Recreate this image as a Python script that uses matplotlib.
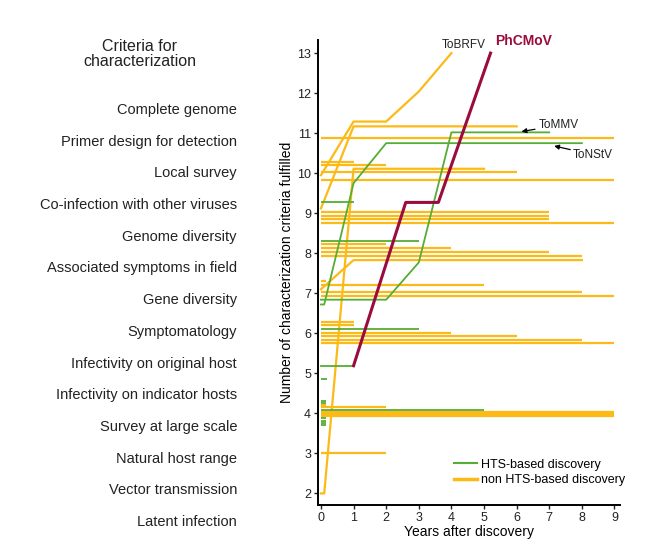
import numpy as np
import matplotlib
matplotlib.use("Agg")
import matplotlib.pyplot as plt
from matplotlib.lines import Line2D

plt.rcParams['font.family'] = ['Liberation Sans', 'DejaVu Sans']

ORANGE = '#FBBA16'
GREEN = '#55AD34'
RED = '#9B0C3E'

criteria = ['Complete genome', 'Primer design for detection', 'Local survey',
            'Co-infection with other viruses', 'Genome diversity',
            'Associated symptoms in field', 'Gene diversity', 'Symptomatology',
            'Infectivity on original host', 'Infectivity on indicator hosts',
            'Survey at large scale', 'Natural host range', 'Vector transmission',
            'Latent infection']

# viruses whose score did not change: jittered level and last year followed
flat_non_hts_level = [10.89, 10.29, 10.21, 10.02, 9.83, 9.02, 8.93, 8.85, 8.75,
                      8.22, 8.12, 8.02, 7.93, 7.31, 7.21, 7.02, 6.93, 6.29, 6.21,
                      6.02, 5.93, 5.83, 5.75, 4.20, 4.16, 4.04, 4.00, 3.97, 3.93,
                      3.02]
flat_non_hts_years = [9, 1, 2, 6, 9, 7, 7, 7, 9,
                      2, 4, 7, 8, 0.15, 5, 8, 9, 1, 1,
                      4, 6, 8, 9, 0.15, 2, 9, 9, 9, 9,
                      2]
flat_hts_level = [9.29, 8.31, 6.11, 4.86, 4.31, 4.25, 4.08, 3.88, 3.82, 3.76, 3.71]
flat_hts_years = [1, 3, 3, 0.2, 0.15, 0.15, 5, 0.15, 0.15, 0.15, 0.15]

# viruses whose score went up over the years
tobrfv_years = [0, 1, 2, 3, 4]
tobrfv_level = [9.95, 11.29, 11.29, 12.04, 13.0]
nonhts_b_years = [0, 1, 6]
nonhts_b_level = [9.12, 11.17, 11.17]
nonhts_c_years = [0, 0.1, 1, 5]
nonhts_c_level = [2.0, 2.0, 10.11, 10.11]
nonhts_d_years = [0, 1, 8]
nonhts_d_level = [7.1, 7.83, 7.83]

tonstv_years = [0, 0.1, 1, 2, 8]
tonstv_level = [6.72, 6.72, 9.75, 10.75, 10.75]
tommv_years = [0, 2, 3, 4, 7]
tommv_level = [6.84, 6.84, 7.77, 11.02, 11.02]

phcmov_hts_years = [0, 1]
phcmov_hts_level = [5.19, 5.19]
phcmov_years = [1, 2.6, 3.6, 5.2]
phcmov_level = [5.19, 9.27, 9.27, 13.0]

fig = plt.figure(figsize=(6.53, 5.39), dpi=100)
ax = fig.add_axes([0.487, 0.063, 0.4625, 0.863])

lw_o, lw_g = 1.6, 1.3
for lev, yr in zip(flat_non_hts_level, flat_non_hts_years):
    ax.plot([0, yr], [lev, lev], color=ORANGE, lw=lw_o, solid_capstyle='butt')
for xs, ys in [(tobrfv_years, tobrfv_level), (nonhts_b_years, nonhts_b_level),
               (nonhts_c_years, nonhts_c_level), (nonhts_d_years, nonhts_d_level)]:
    ax.plot(xs, ys, color=ORANGE, lw=lw_o)

for lev, yr in zip(flat_hts_level, flat_hts_years):
    ax.plot([0, yr], [lev, lev], color=GREEN, lw=lw_g, solid_capstyle='butt')
for xs, ys in [(tonstv_years, tonstv_level), (tommv_years, tommv_level),
               (phcmov_hts_years, phcmov_hts_level)]:
    ax.plot(xs, ys, color=GREEN, lw=lw_g)

ax.plot(phcmov_years, phcmov_level, color=RED, lw=2.2)

ax.set_xlim(-0.09, 9.17)
ax.set_ylim(1.71, 13.33)
ax.set_xticks(range(0, 10))
ax.set_yticks(range(2, 14))
for s in ['top', 'right']:
    ax.spines[s].set_visible(False)
for s in ['left', 'bottom']:
    ax.spines[s].set_linewidth(1.4)
ax.tick_params(labelsize=9, length=3, width=1, colors='#222222', pad=2)
ax.set_xlabel('Years after discovery', fontsize=10, labelpad=1)
ax.set_ylabel('Number of characterization criteria fulfilled', fontsize=10, labelpad=2)

ax.text(4.39, 13.21, 'ToBRFV', fontsize=8.5, ha='center', va='center', color='#222222')
ax.text(6.2, 13.31, 'PhCMoV', fontsize=10, fontweight='bold', ha='center',
        va='center', color=RED, clip_on=False)
ax.annotate('ToMMV', xy=(6.15, 11.04), xytext=(6.69, 11.2), fontsize=8.5,
            va='center', color='#222222',
            arrowprops=dict(arrowstyle='-|>', color='black', lw=0.9,
                            mutation_scale=7, shrinkA=1, shrinkB=0))
ax.annotate('ToNStV', xy=(7.15, 10.68), xytext=(7.73, 10.46), fontsize=8.5,
            va='center', color='#222222',
            arrowprops=dict(arrowstyle='-|>', color='black', lw=0.9,
                            mutation_scale=7, shrinkA=0, shrinkB=0))

handles = [Line2D([], [], color=GREEN, lw=1.5),
           Line2D([], [], color=ORANGE, lw=2.5)]
ax.legend(handles, ['HTS-based discovery', 'non HTS-based discovery'],
          loc='center left', bbox_to_anchor=(0.45, 0.07), frameon=False,
          fontsize=9, borderpad=0, borderaxespad=0, handlelength=1.85,
          handletextpad=0.35, labelspacing=0.3)

# left column with the criteria
fig.text(140 / 653, 1 - 54 / 539, 'Criteria for\ncharacterization', fontsize=11.5,
         ha='center', va='center', linespacing=1.05, color='#222222')
label_y = np.linspace(110, 522, len(criteria))
for name, py in zip(criteria, label_y):
    fig.text(237 / 653, 1 - py / 539, name, fontsize=10.5, ha='right',
             va='center', color='#222222')

fig.savefig('out.png', dpi=100)
